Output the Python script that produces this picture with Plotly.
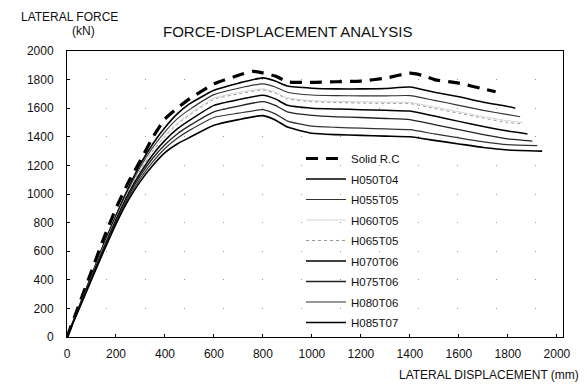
import plotly.graph_objects as go

# ---- data ----
x_rc = [0, 50, 100, 150, 200, 250, 300, 350, 400, 450, 500, 600, 700, 760, 850, 900, 1000, 1100, 1200, 1300, 1400, 1450, 1500, 1600, 1700, 1750]
y_rc = [0, 230, 460, 690, 900, 1080, 1235, 1395, 1525, 1600, 1665, 1770, 1830, 1858, 1825, 1785, 1780, 1785, 1790, 1810, 1845, 1830, 1800, 1775, 1735, 1715]

x_h = [0, 50, 100, 150, 200, 250, 300, 350, 400, 450, 500, 600, 700, 800, 850, 900, 1000, 1100, 1200, 1300, 1400, 1500, 1600, 1700, 1800]

h050t04 = [0, 215, 430, 650, 850, 1040, 1210, 1350, 1465, 1560, 1630, 1725, 1775, 1812, 1790, 1755, 1740, 1735, 1735, 1738, 1748, 1712, 1680, 1642, 1612]
h055t05 = [0, 212, 425, 640, 840, 1025, 1190, 1325, 1435, 1525, 1590, 1695, 1740, 1770, 1748, 1712, 1692, 1688, 1686, 1686, 1688, 1655, 1620, 1585, 1555]
h060t05 = [0, 210, 420, 635, 832, 1015, 1175, 1305, 1410, 1495, 1560, 1670, 1710, 1735, 1712, 1672, 1652, 1648, 1645, 1642, 1640, 1608, 1575, 1540, 1512]
h065t05 = [0, 210, 418, 630, 828, 1010, 1170, 1300, 1402, 1487, 1552, 1662, 1700, 1728, 1705, 1665, 1645, 1640, 1636, 1634, 1632, 1598, 1565, 1530, 1500]
h070t06 = [0, 208, 415, 622, 820, 1000, 1150, 1275, 1375, 1455, 1515, 1620, 1660, 1690, 1665, 1620, 1600, 1594, 1590, 1585, 1580, 1545, 1508, 1472, 1440]
h075t06 = [0, 205, 410, 615, 810, 985, 1130, 1250, 1345, 1420, 1478, 1575, 1615, 1646, 1620, 1575, 1550, 1540, 1535, 1528, 1520, 1485, 1450, 1415, 1385]
h080t06 = [0, 203, 405, 608, 800, 970, 1110, 1225, 1318, 1390, 1445, 1535, 1565, 1590, 1560, 1510, 1475, 1466, 1460, 1455, 1450, 1420, 1392, 1365, 1345]
h085t07 = [0, 200, 400, 600, 790, 955, 1090, 1200, 1290, 1350, 1395, 1480, 1520, 1548, 1518, 1468, 1425, 1415, 1410, 1405, 1400, 1375, 1350, 1325, 1308]

h_ext_x = {"H050T04": 1830, "H055T05": 1850, "H060T05": 1860, "H065T05": 1860,
           "H070T06": 1880, "H075T06": 1900, "H080T06": 1920, "H085T07": 1940}
h_ext_y = {"H050T04": 1600, "H055T05": 1540, "H060T05": 1500, "H065T05": 1490,
           "H070T06": 1420, "H075T06": 1370, "H080T06": 1338, "H085T07": 1300}

series = [("H050T04", h050t04), ("H055T05", h055t05), ("H060T05", h060t05), ("H065T05", h065t05),
          ("H070T06", h070t06), ("H075T06", h075t06), ("H080T06", h080t06), ("H085T07", h085t07)]

styles = {
    "H050T04": dict(color="black", width=1.6, dash="solid"),
    "H055T05": dict(color="#333333", width=1.1, dash="solid"),
    "H060T05": dict(color="#d4d4d4", width=1.0, dash="solid"),
    "H065T05": dict(color="#9a9a9a", width=1.0, dash="dot"),
    "H070T06": dict(color="black", width=1.5, dash="solid"),
    "H075T06": dict(color="#222222", width=1.3, dash="solid"),
    "H080T06": dict(color="#333333", width=1.2, dash="solid"),
    "H085T07": dict(color="black", width=1.6, dash="solid"),
}

x_ticks = [0, 200, 400, 600, 800, 1000, 1200, 1400, 1600, 1800, 2000]
y_ticks = [0, 200, 400, 600, 800, 1000, 1200, 1400, 1600, 1800, 2000]

FONT = "Liberation Sans, Arial, sans-serif"

L, R, T, B = 67, 24, 51, 48
W, H = 587, 385
pw, ph = W - L - R, H - T - B


def px_to_paper(px, py):
    return (px - L) / pw, (H - B - py) / ph


fig = go.Figure()
fig.add_trace(go.Scatter(x=x_rc, y=y_rc, mode="lines", name="Solid R.C", legendgroup="rc",
                         line=dict(color="black", width=3.2, dash="12px,8px",
                                   shape="spline", smoothing=0.5)))
for name, ys in series:
    st = dict(styles[name])
    st.update(shape="spline", smoothing=0.5)
    fig.add_trace(go.Scatter(x=x_h + [h_ext_x[name]], y=ys + [h_ext_y[name]], mode="lines",
                             name=name, legendgroup=name, line=st))

ann_specs = [
    ("FORCE-DISPLACEMENT ANALYSIS", 288, 32, "center", 15),
    ("LATERAL FORCE", 69, 17, "center", 12),
    ("(kN)", 83, 31, "center", 12),
    ("LATERAL DISPLACEMENT (mm)", 581, 375, "right", 12),
]
annotations = []
for text, px, py, xa, fs in ann_specs:
    ax, ay = px_to_paper(px, py)
    annotations.append(dict(text=text, x=ax, y=ay, xref="paper", yref="paper",
                            xanchor=xa, yanchor="middle", showarrow=False,
                            font=dict(size=fs)))

lx, ly = px_to_paper(301, 144)

fig.update_layout(
    width=W, height=H,
    margin=dict(l=L, r=R, t=T, b=B),
    paper_bgcolor="white", plot_bgcolor="white",
    font=dict(family=FONT, size=12, color="#111111"),
    showlegend=True,
    legend=dict(x=lx, y=ly, xanchor="left", yanchor="top",
                bgcolor="rgba(255,255,255,0)", font=dict(size=11.5, color="#111111"),
                itemwidth=40, tracegroupgap=1.5),
    xaxis=dict(range=[0, 2025], tickvals=x_ticks, ticktext=[str(v) for v in x_ticks],
               showline=True, linecolor="black", linewidth=1, mirror=True,
               ticks="inside", ticklen=3, tickcolor="black", ticklabelstandoff=6,
               showgrid=False, zeroline=False, tickfont=dict(size=12)),
    yaxis=dict(range=[0, 2000], tickvals=y_ticks, ticktext=[str(v) for v in y_ticks],
               showline=True, linecolor="black", linewidth=1, mirror=True,
               ticks="inside", ticklen=3, tickcolor="black", ticklabelstandoff=10,
               showgrid=True, gridcolor="#999999", griddash="1px,38px", gridwidth=1,
               zeroline=False, tickfont=dict(size=12)),
    annotations=annotations,
)

fig.write_html("out.html")
